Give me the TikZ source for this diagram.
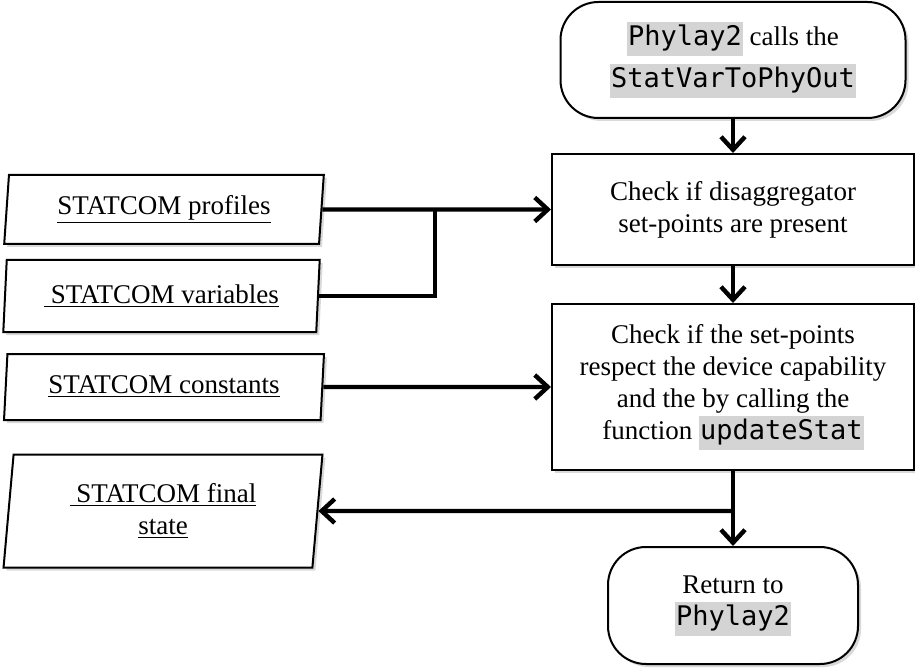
\documentclass[tikz,border=0pt]{standalone}
\usepackage{fontspec}
\setmainfont{Liberation Serif}
\setmonofont{DejaVu Sans Mono}
\usetikzlibrary{shapes.geometric,shadows,arrows.meta}
\definecolor{hl}{RGB}{212,212,212}
\newcommand{\hlc}[1]{{\setlength{\fboxsep}{0.5pt}\colorbox{hl}{\strut\ttfamily #1}}}
\begin{document}
\begin{tikzpicture}[x=0.5pt,y=-0.5pt,
  every node/.style={font=\fontsize{13.5}{16}\selectfont},
  shad/.style={drop shadow={shadow xshift=1.5pt,shadow yshift=-1.5pt,opacity=0.25,fill=black!60}},
  procbox/.style={draw, line width=1pt, fill=white, shad, align=center, minimum width=181pt, inner sep=0pt},
  term/.style={draw, line width=1pt, fill=white, shad, align=center, rounded corners=19pt, inner sep=0pt},
  iobox/.style={draw, line width=1pt, fill=white, shad, trapezium, trapezium left angle=83.5, trapezium right angle=96.5, trapezium stretches=true, align=center, inner sep=0pt},
  conn/.style={line width=2.2pt},
  arr/.style={conn, -{Straight Barb[length=6.5pt,width=12pt]}}
]
\useasboundingbox (0,0) rectangle (915,668);
\node[term, minimum width=172.5pt, minimum height=58pt] (start) at (733,60) {\hlc{Phylay2} calls the\\[3pt]\hlc{StatVarToPhyOut}};
\node[procbox, minimum height=55.5pt] (b1) at (733,209.5) {Check if disaggregator\\set-points are present};
\node[procbox, minimum height=83pt] (b2) at (733,387) {Check if the set-points\\respect the device capability\\and the by calling the\\function \hlc{updateStat}};
\node[term, minimum width=125pt, minimum height=58.5pt] (ret) at (733,605.5) {Return to\\\hlc{Phylay2}};
\node[iobox, minimum width=160pt, minimum height=34.5pt] (prof) at (164,209.5) {\underline{STATCOM profiles}};
\node[iobox, minimum width=158.5pt, minimum height=36pt] (var) at (161.5,296) {\underline{\ STATCOM variables}};
\node[iobox, minimum width=160pt, minimum height=33pt] (const) at (164,387) {\underline{STATCOM constants}};
\node[iobox, minimum width=160pt, minimum height=56.5pt] (fin) at (163,511) {\underline{\ STATCOM final}\\\underline{state}};
\coordinate (j1) at (435,209.5);
\coordinate (j2) at (733,511);
\draw[arr] (start) -- (b1);
\draw[arr] (b1) -- (b2);
\draw[arr] (b2) -- (ret);
\draw[arr] (prof) -- (b1);
\draw[conn] (var.east) -| (j1);
\draw[arr] (const) -- (b2);
\draw[arr] (j2) -- (fin);
\end{tikzpicture}
\end{document}
